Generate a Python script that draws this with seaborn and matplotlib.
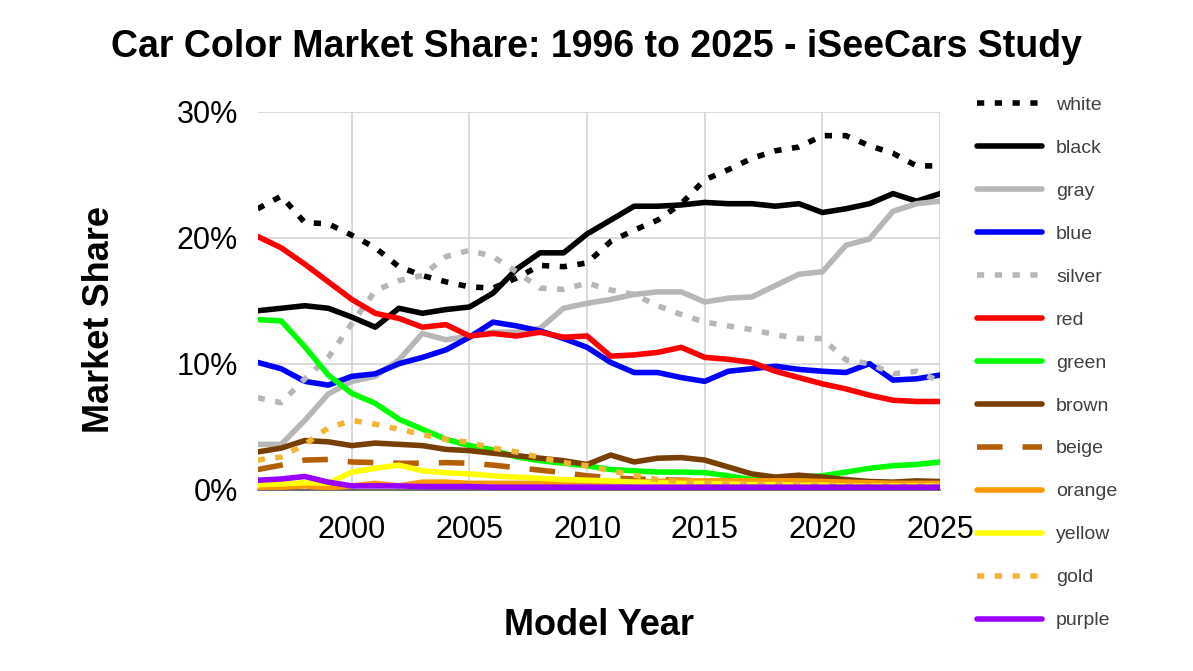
import pandas as pd
import matplotlib
matplotlib.use("Agg")
import matplotlib.pyplot as plt
import seaborn as sns
from matplotlib.ticker import PercentFormatter

# Model years
years = list(range(1996, 2026))

# Market share per color (%)
white = [22.3, 23.3, 21.2, 21.1, 20.2, 19.2, 17.7, 17.0, 16.5, 16.1,
         16.0, 16.8, 17.8, 17.7, 18.0, 19.7, 20.6, 21.4, 22.7, 24.6,
         25.4, 26.3, 26.9, 27.2, 28.1, 28.1, 27.3, 26.7, 25.7, 25.7]
black = [14.2, 14.4, 14.6, 14.4, 13.7, 12.9, 14.4, 14.0, 14.3, 14.5,
         15.6, 17.5, 18.8, 18.8, 20.3, 21.4, 22.5, 22.5, 22.6, 22.8,
         22.7, 22.7, 22.5, 22.7, 22.0, 22.3, 22.7, 23.5, 22.9, 23.5]
gray = [3.6, 3.6, 5.5, 7.6, 8.6, 9.0, 10.3, 12.4, 11.9, 12.2,
        12.5, 12.5, 12.8, 14.4, 14.8, 15.1, 15.5, 15.7, 15.7, 14.9,
        15.2, 15.3, 16.2, 17.1, 17.3, 19.4, 19.9, 22.1, 22.7, 22.9]
blue = [10.1, 9.6, 8.6, 8.3, 9.0, 9.2, 10.0, 10.5, 11.1, 12.1,
        13.3, 13.0, 12.6, 12.0, 11.3, 10.1, 9.3, 9.3, 8.9, 8.6,
        9.4, 9.6, 9.8, 9.55, 9.4, 9.3, 10.0, 8.7, 8.8, 9.1]
silver = [7.3, 6.9, 8.8, 10.5, 13.2, 15.8, 16.6, 17.0, 18.5, 19.0,
          18.5, 17.3, 16.0, 15.9, 16.4, 15.85, 15.5, 14.6, 13.9, 13.3,
          13.0, 12.7, 12.3, 12.0, 12.0, 10.3, 10.0, 9.2, 9.4, 8.6]
red = [20.1, 19.2, 17.9, 16.5, 15.1, 14.0, 13.6, 12.9, 13.1, 12.2,
       12.4, 12.2, 12.5, 12.1, 12.2, 10.6, 10.7, 10.9, 11.3, 10.5,
       10.35, 10.1, 9.4, 8.9, 8.4, 8.0, 7.5, 7.1, 7.0, 7.0]
green = [13.5, 13.4, 11.35, 9.1, 7.65, 6.85, 5.6, 4.8, 4.0, 3.5,
         3.15, 2.6, 2.3, 2.1, 1.9, 1.6, 1.5, 1.4, 1.4, 1.35,
         1.1, 0.8, 0.85, 1.0, 1.1, 1.4, 1.7, 1.9, 2.0, 2.2]
brown = [3.0, 3.3, 3.9, 3.8, 3.5, 3.7, 3.6, 3.5, 3.2, 3.1,
         2.9, 2.7, 2.5, 2.3, 2.0, 2.75, 2.2, 2.5, 2.55, 2.35,
         1.8, 1.25, 1.0, 1.15, 1.0, 0.8, 0.65, 0.6, 0.7, 0.65]
beige = [1.6, 1.95, 2.35, 2.4, 2.2, 2.15, 2.1, 2.1, 2.15, 2.1,
         1.95, 1.75, 1.55, 1.35, 1.1, 0.95, 0.85, 0.8, 0.75, 0.7,
         0.65, 0.6, 0.6, 0.55, 0.5, 0.5, 0.45, 0.45, 0.45, 0.4]
orange = [0.2, 0.2, 0.3, 0.15, 0.3, 0.5, 0.3, 0.6, 0.6, 0.5,
          0.5, 0.5, 0.5, 0.6, 0.6, 0.6, 0.6, 0.65, 0.7, 0.7,
          0.7, 0.7, 0.7, 0.7, 0.65, 0.6, 0.55, 0.5, 0.5, 0.5]
yellow = [0.4, 0.45, 0.55, 0.5, 1.4, 1.7, 1.95, 1.5, 1.35, 1.25,
          1.1, 1.0, 0.9, 0.8, 0.75, 0.7, 0.6, 0.55, 0.5, 0.5,
          0.45, 0.4, 0.4, 0.35, 0.35, 0.3, 0.3, 0.3, 0.3, 0.3]
gold = [2.35, 2.6, 3.6, 4.9, 5.5, 5.2, 4.8, 4.4, 4.0, 3.75,
        3.3, 3.0, 2.55, 2.15, 1.9, 1.5, 1.15, 0.8, 0.65, 0.55,
        0.5, 0.45, 0.4, 0.4, 0.35, 0.35, 0.3, 0.3, 0.3, 0.3]
purple = [0.75, 0.85, 1.05, 0.6, 0.3, 0.3, 0.3, 0.25, 0.25, 0.25,
          0.2, 0.2, 0.2, 0.2, 0.2, 0.2, 0.2, 0.2, 0.2, 0.2,
          0.2, 0.2, 0.2, 0.2, 0.2, 0.2, 0.2, 0.2, 0.2, 0.2]

names = ["white", "black", "gray", "blue", "silver", "red", "green",
         "brown", "beige", "orange", "yellow", "gold", "purple"]
series = [white, black, gray, blue, silver, red, green,
          brown, beige, orange, yellow, gold, purple]

# line look for each color
dots = (0, (1.3, 1.9))
styles = {
    "white": ("#000000", dots),
    "black": ("#000000", "-"),
    "gray": ("#b7b7b7", "-"),
    "blue": ("#0000ff", "-"),
    "silver": ("#b7b7b7", dots),
    "red": ("#ff0000", "-"),
    "green": ("#00ff00", "-"),
    "brown": ("#783f04", "-"),
    "beige": ("#b45f06", (0, (4.6, 3.6))),
    "orange": ("#ff9900", "-"),
    "yellow": ("#ffff00", "-"),
    "gold": ("#f1b434", dots),
    "purple": ("#9900ff", "-"),
}

sns.set_theme(style="white")
plt.rcParams['font.family'] = ['Liberation Sans', 'DejaVu Sans']

fig = plt.figure(figsize=(11.93, 6.71), dpi=100)
ax = fig.add_axes([0.216, 0.2702, 0.572, 0.5633])

for i, (name, vals) in enumerate(zip(names, series)):
    color, ls = styles[name]
    sns.lineplot(x=years, y=vals, ax=ax, color=color, linestyle=ls,
                 linewidth=4, label=name, zorder=3 + i)

ax.set_xlim(1996, 2025)
ax.set_ylim(0, 30)
ax.set_xticks([2000, 2005, 2010, 2015, 2020, 2025])
ax.set_yticks([0, 10, 20, 30])
ax.yaxis.set_major_formatter(PercentFormatter(xmax=100, decimals=0))
ax.grid(True, color="#d4d4d4", linewidth=1.2)
for s in ["top", "right", "left"]:
    ax.spines[s].set_visible(False)
ax.spines["bottom"].set_color("#555555")
ax.spines["bottom"].set_linewidth(1.2)
ax.tick_params(axis="both", length=0, labelsize=22, colors="black")
ax.tick_params(axis="x", pad=18)
ax.tick_params(axis="y", pad=14)

ax.set_xlabel("Model Year", fontsize=26, weight="bold", color="black")
ax.set_ylabel("Market Share", fontsize=26, weight="bold", color="black")
ax.xaxis.set_label_coords(0.5, -0.36)
ax.xaxis.label.set_va("center")
ax.yaxis.set_label_coords(-0.232, 0.449)
ax.yaxis.label.set_va("center")

fig.suptitle("Car Color Market Share: 1996 to 2025 - iSeeCars Study",
             x=0.5, y=1 - 47 / 671, va="center", fontsize=27,
             weight="bold", color="black")

ax.get_legend().remove()
handles, labels = ax.get_legend_handles_labels()
fig.legend(handles, labels, loc="upper left",
           bbox_to_anchor=(977 / 1193, 1 - 96 / 671), frameon=False,
           fontsize=14, labelcolor="#404040", handlelength=3.34,
           handletextpad=0.72, labelspacing=1.305, borderpad=0,
           borderaxespad=0)

fig.savefig("out.png", dpi=100)
